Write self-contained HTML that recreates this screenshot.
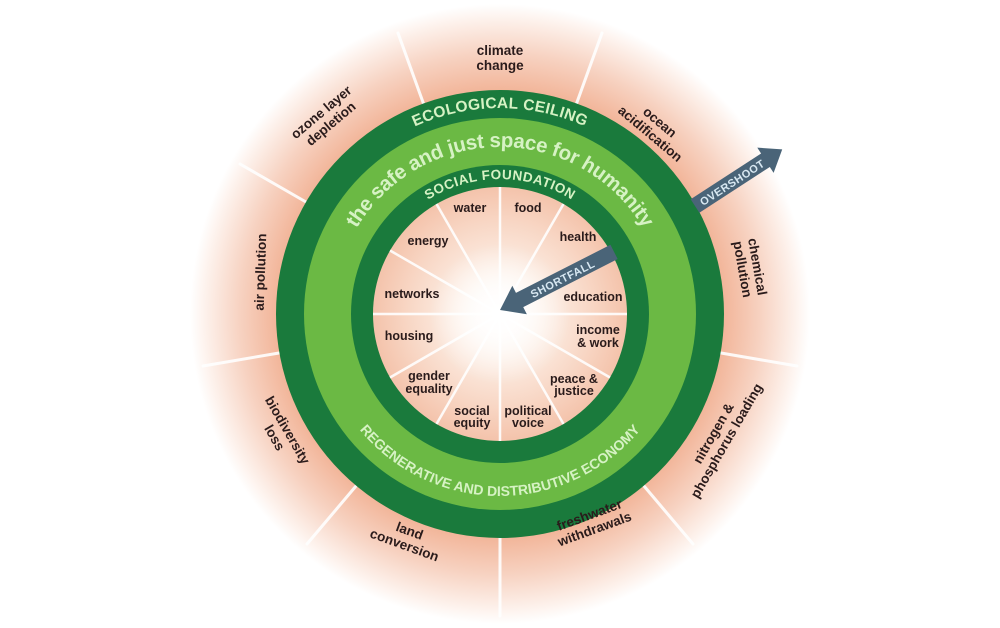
<!DOCTYPE html>
<html><head><meta charset="utf-8"><style>
html,body{margin:0;padding:0;background:#fff;width:1000px;height:628px;overflow:hidden}
svg{display:block}
.l{font-family:"Liberation Sans",Arial,sans-serif;font-weight:bold;font-size:12.5px;fill:#2a1b1b;text-anchor:middle}
.o{font-family:"Liberation Sans",Arial,sans-serif;font-weight:bold;font-size:13.5px;fill:#2a1b1b;text-anchor:middle}
.r{font-family:"Liberation Sans",Arial,sans-serif;font-weight:bold;fill:#d6f2c4}
</style></head><body>
<svg width="1000" height="628" viewBox="0 0 1000 628" xmlns="http://www.w3.org/2000/svg">
<defs>
<radialGradient id="bg" cx="500" cy="314" r="310" gradientUnits="userSpaceOnUse">
<stop offset="0" stop-color="#ffffff"/>
<stop offset="0.12" stop-color="#fdf2ea"/>
<stop offset="0.3" stop-color="#f8d6c4"/>
<stop offset="0.41" stop-color="#f4c3ab"/>
<stop offset="0.72" stop-color="#f2b599"/>
<stop offset="0.84" stop-color="#f7d2c1"/>
<stop offset="0.95" stop-color="#fdf1eb"/>
<stop offset="1" stop-color="#ffffff"/>
</radialGradient>
<radialGradient id="cg" cx="500" cy="314" r="70" gradientUnits="userSpaceOnUse">
<stop offset="0" stop-color="#ffffff" stop-opacity="1"/>
<stop offset="0.4" stop-color="#ffffff" stop-opacity="0.7"/>
<stop offset="1" stop-color="#ffffff" stop-opacity="0"/>
</radialGradient>
<path id="eco" d="M 290,314 A 210,210 0 0 1 710,314"/>
<path id="safe" d="M 333,314 A 167,167 0 0 1 667,314"/>
<path id="soc" d="M 365,314 A 135,135 0 0 1 635,314"/>
<path id="reg" d="M 318,314 A 182,182 0 0 0 682,314"/>
</defs>
<rect width="1000" height="628" fill="#fff"/>
<circle cx="500" cy="314" r="310" fill="url(#bg)"/>
<g stroke="#fff" stroke-width="3" stroke-linecap="round" opacity="0.9">
<line x1="424" y1="105" x2="398" y2="33"/>
<line x1="576" y1="105" x2="602" y2="33"/>
<line x1="694" y1="202" x2="760" y2="164"/>
<line x1="721" y1="353" x2="797" y2="366"/>
<line x1="644" y1="486" x2="693" y2="544"/>
<line x1="500" y1="538" x2="500" y2="616"/>
<line x1="356" y1="486" x2="307" y2="544"/>
<line x1="279" y1="353" x2="203" y2="366"/>
<line x1="306" y1="202" x2="240" y2="164"/>
</g>
<circle cx="500" cy="314" r="224" fill="#1a7a3c"/>
<circle cx="500" cy="314" r="196" fill="#6bb944"/>
<circle cx="500" cy="314" r="149" fill="#1a7a3c"/>
<circle cx="500" cy="314" r="127" fill="url(#bg)"/>
<g stroke="#fff" stroke-width="2.5" opacity="0.9">
<line x1="500" y1="300" x2="500" y2="187"/>
<line x1="500" y1="314" x2="563.5" y2="204"/>
<line x1="500" y1="314" x2="610" y2="250.5"/>
<line x1="500" y1="314" x2="627" y2="314"/>
<line x1="500" y1="314" x2="610" y2="377.5"/>
<line x1="500" y1="314" x2="563.5" y2="424"/>
<line x1="500" y1="314" x2="500" y2="441"/>
<line x1="500" y1="314" x2="436.5" y2="424"/>
<line x1="500" y1="314" x2="390" y2="377.5"/>
<line x1="500" y1="314" x2="373" y2="314"/>
<line x1="500" y1="314" x2="390" y2="250.5"/>
<line x1="500" y1="314" x2="436.5" y2="204"/>
</g>
<circle cx="500" cy="314" r="70" fill="url(#cg)"/>
<text class="r" font-size="15.5" letter-spacing="0.5"><textPath href="#eco" startOffset="50%" text-anchor="middle" dominant-baseline="middle">ECOLOGICAL CEILING</textPath></text>
<text class="r" font-size="20.5"><textPath href="#safe" startOffset="50%" text-anchor="middle" textLength="345">the safe and just space for humanity</textPath></text>
<text class="r" font-size="13.5" letter-spacing="0.5"><textPath href="#soc" startOffset="50%" text-anchor="middle">SOCIAL FOUNDATION</textPath></text>
<text class="r" font-size="14"><textPath href="#reg" startOffset="50%" text-anchor="middle">REGENERATIVE AND DISTRIBUTIVE ECONOMY</textPath></text>
<text class="l" x="470" y="212">water</text>
<text class="l" x="528" y="212">food</text>
<text class="l" x="428" y="245">energy</text>
<text class="l" x="578" y="241">health</text>
<text class="l" x="412" y="298">networks</text>
<text class="l" x="593" y="301">education</text>
<text class="l" x="409" y="340">housing</text>
<text class="l" x="598" y="334">income</text>
<text class="l" x="598" y="347">&amp; work</text>
<text class="l" x="429" y="380">gender</text>
<text class="l" x="429" y="393">equality</text>
<text class="l" x="574" y="383">peace &amp;</text>
<text class="l" x="574" y="395">justice</text>
<text class="l" x="472" y="415">social</text>
<text class="l" x="472" y="427">equity</text>
<text class="l" x="528" y="415">political</text>
<text class="l" x="528" y="427">voice</text>
<text class="o" x="500" y="55">climate</text>
<text class="o" x="500" y="70">change</text>
<g transform="translate(655,128) rotate(40)"><text class="o" y="-3">ocean</text><text class="o" y="12">acidification</text></g>
<g transform="translate(750,268) rotate(80)"><text class="o" y="-3">chemical</text><text class="o" y="12">pollution</text></g>
<g transform="translate(720,437) rotate(-60)"><text class="o" y="-3">nitrogen &amp;</text><text class="o" y="12">phosphorus loading</text></g>
<g transform="translate(592,522) rotate(-20)"><text class="o" y="-3">freshwater</text><text class="o" y="12">withdrawals</text></g>
<g transform="translate(407,538) rotate(20)"><text class="o" y="-3">land</text><text class="o" y="12">conversion</text></g>
<g transform="translate(281,434) rotate(60)"><text class="o" y="-3">biodiversity</text><text class="o" y="12">loss</text></g>
<g transform="translate(260,272) rotate(-88)"><text class="o" y="5">air pollution</text></g>
<g transform="translate(326,118) rotate(-40)"><text class="o" y="-3">ozone layer</text><text class="o" y="12">depletion</text></g>
<g transform="translate(500,310) rotate(-27)">
<polygon points="0,0 22,-16 22,-8 128,-8 128,8 22,8 22,16" fill="#4a6478"/>
<text x="70" y="4.5" font-family="Liberation Sans,Arial,sans-serif" font-weight="bold" font-size="11" fill="#d8e8f2" text-anchor="middle" letter-spacing="0.5">SHORTFALL</text>
</g>
<g transform="translate(695,206) rotate(-33)">
<polygon points="0,-8 84,-8 84,-15 104,0 84,15 84,8 0,8" fill="#4a6478"/>
<text x="44" y="4.5" font-family="Liberation Sans,Arial,sans-serif" font-weight="bold" font-size="11" fill="#d8e8f2" text-anchor="middle" letter-spacing="0.5">OVERSHOOT</text>
</g>
</svg>
</body></html>
